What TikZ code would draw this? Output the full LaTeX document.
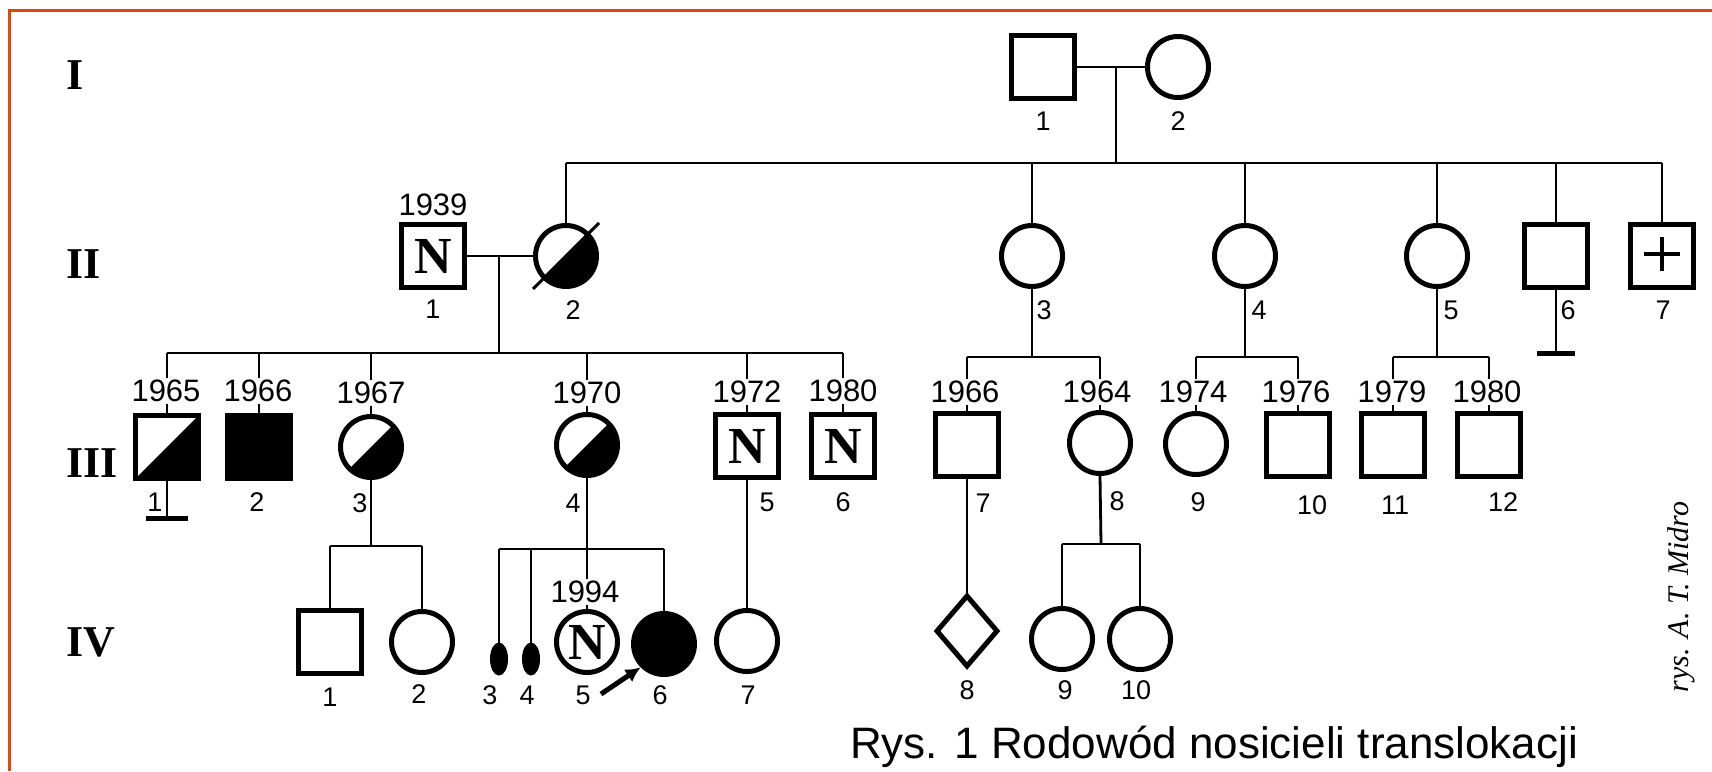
\documentclass[tikz,border=0pt]{standalone}
\usepackage{fontspec}
\setmainfont{Liberation Sans}
\newfontfamily\serifb{Liberation Serif}
\usetikzlibrary{arrows.meta,calc,shapes.geometric}
\definecolor{framecol}{RGB}{226,68,18}
\begin{document}
\begin{tikzpicture}[x=1pt,y=-1pt,
  sym/.style={draw,line width=5pt,inner sep=0pt},
  sq/.style={sym,rectangle,minimum size=63pt},
  ci/.style={sym,circle,minimum size=61pt},
  ell/.style={ellipse,draw,fill,line width=1pt,inner sep=0pt,minimum width=17pt,minimum height=32pt},
  dia/.style={diamond,draw,line width=5pt,inner sep=0pt,minimum width=62pt,minimum height=72pt},
  conn/.style={line width=2.8pt},
  barline/.style={line width=5pt},
  yr/.style={fill=white,inner sep=2pt,font=\fontsize{31}{31}\selectfont},
  lab/.style={inner sep=0pt,font=\fontsize{27}{27}\selectfont},
  gen/.style={anchor=west,inner sep=0pt,font=\serifb\bfseries\fontsize{44}{44}\selectfont},
  nn/.style={font=\serifb\bfseries\fontsize{52}{52}\selectfont},
  half/.style={path picture={\fill (path picture bounding box.south west) -- (path picture bounding box.south east) -- (path picture bounding box.north east) -- cycle;}},
]
\useasboundingbox (0,0) rectangle (1712,771);
\draw[framecol,line width=3pt] (9,771) -- (9,10) -- (1712,10);

% generation numerals
\node[gen] (gI) at (66,75) {I};
\node[gen] (gII) at (66,264) {II};
\node[gen] (gIII) at (66,463) {III};
\node[gen] (gIV) at (66,642) {IV};

% Generation I
\node[sq] (I1) at (1043,67) {};
\node[ci] (I2) at (1178,67) {};

% Generation II
\node[sq,nn] (II1) at (433,256) {N};
\node[ci,half] (II2) at (566,256) {};
\node[ci] (II3) at (1032,256) {};
\node[ci] (II4) at (1245,256) {};
\node[ci] (II5) at (1437,256) {};
\node[sq] (II6) at (1556,256) {};
\node[sq] (II7) at (1662,256) {};

% Generation III
\node[sq,half] (III1) at (167,447) {};
\node[sq,fill] (III2) at (259,447) {};
\node[ci,half] (III3) at (371,447) {};
\node[ci,half] (III4) at (587,445) {};
\node[sq,nn] (III5) at (747,446) {N};
\node[sq,nn] (III6) at (843,446) {N};
\node[sq] (III7) at (967,445) {};
\node[ci] (III8) at (1100,443) {};
\node[ci] (III9) at (1196,444) {};
\node[sq] (III10) at (1298,445) {};
\node[sq] (III11) at (1393,445) {};
\node[sq] (III12) at (1489,445) {};

% Generation IV
\node[sq] (IV1) at (330,642) {};
\node[ci] (IV2) at (422,642) {};
\node[ell] (IV3) at (499,659) {};
\node[ell] (IV4) at (531,659) {};
\node[ci,nn] (IV5) at (587,642) {N};
\node[ci,fill] (IV6) at (664,644) {};
\node[ci] (IV7) at (747,641) {};
\node[dia] (IV8) at (967,631) {};
\node[ci] (IV9) at (1062,639) {};
\node[ci] (IV10) at (1140,639) {};

% special marks
\draw[line width=3pt] ($(II2.center)+(-33,33)$) -- ($(II2.center)+(33,-33)$);
\draw[line width=4.5pt] ($(II7.center)+(-18,-2)$) -- ($(II7.center)+(18,-2)$);
\draw[line width=4.5pt] ($(II7.center)+(0,-19)$) -- ($(II7.center)+(0,15)$);

% connectors I
\coordinate (mI) at (1116,67);
\coordinate (sII) at (1116,163);
\draw[conn] (I1) -- (I2);
\draw[conn] (mI) -- (sII);
\draw[conn] (II2.north |- sII) -- (II7.north |- sII);
\foreach \n in {II2,II3,II4,II5,II6,II7} \draw[conn] (\n.north |- sII) -- (\n.north);

% connectors II1 x II2
\coordinate (mII) at (499,256);
\coordinate (sIII) at (499,353);
\draw[conn] (II1) -- (II2);
\draw[conn] (mII) -- (sIII);
\draw[conn] (III1.north |- sIII) -- (III6.north |- sIII);
\foreach \n in {III1,III2,III3,III4,III5,III6} \draw[conn] (\n.north |- sIII) -- (\n.north);

% II3, II4, II5 children
\coordinate (sIIIa) at (1032,357);
\draw[conn] (II3.south) -- (sIIIa);
\draw[conn] (III7.north |- sIIIa) -- (III8.north |- sIIIa);
\foreach \n in {III7,III8} \draw[conn] (\n.north |- sIIIa) -- (\n.north);
\coordinate (sIIIb) at (1245,357);
\draw[conn] (II4.south) -- (sIIIb);
\draw[conn] (III9.north |- sIIIb) -- (III10.north |- sIIIb);
\foreach \n in {III9,III10} \draw[conn] (\n.north |- sIIIb) -- (\n.north);
\coordinate (sIIIc) at (1437,357);
\draw[conn] (II5.south) -- (sIIIc);
\draw[conn] (III11.north |- sIIIc) -- (III12.north |- sIIIc);
\foreach \n in {III11,III12} \draw[conn] (\n.north |- sIIIc) -- (\n.north);

% no-offspring bars
\coordinate (b6) at (1556,353);
\draw[conn] (II6.south) -- (b6);
\draw[barline] ($(b6)+(-19,0)$) -- ($(b6)+(19,0)$);
\coordinate (b1) at (167,518);
\draw[conn] (III1.south) -- (b1);
\draw[barline] ($(b1)+(-21,0)$) -- ($(b1)+(21,0)$);

% generation IV connectors
\coordinate (sIVa) at (371,546);
\draw[conn] (III3.south) -- (sIVa);
\draw[conn] (IV1.north |- sIVa) -- (IV2.north |- sIVa);
\foreach \n in {IV1,IV2} \draw[conn] (\n.north |- sIVa) -- (\n.north);
\coordinate (sIVb) at (587,549);
\draw[conn] (III4.south) -- (sIVb);
\draw[conn] (IV3.north |- sIVb) -- (IV6.north |- sIVb);
\foreach \n in {IV3,IV4,IV5,IV6} \draw[conn] (\n.north |- sIVb) -- (\n.north);
\draw[conn] (III5.south) -- (IV7.north);
\draw[conn] (III7.south) -- (IV8.north);
\coordinate (sIVc) at (1101,544);
\draw[conn] (III8.south) -- (sIVc);
\draw[conn] (IV9.north |- sIVc) -- (IV10.north |- sIVc);
\foreach \n in {IV9,IV10} \draw[conn] (\n.north |- sIVc) -- (\n.north);

% proband arrow
\coordinate (arrS) at (601,694);
\draw[line width=5pt,-{Latex[length=15pt,width=15pt]}] (arrS) -- (IV6.south west);

% years
\node[yr] (II1y) at (433,205) {1939};
\node[yr] (III1y) at (166,391) {1965};
\node[yr] (III2y) at (258,391) {1966};
\node[yr] (III3y) at (371,393) {1967};
\node[yr] (III4y) at (587,393) {1970};
\node[yr] (III5y) at (747,392) {1972};
\node[yr] (III6y) at (843,391) {1980};
\node[yr] (III7y) at (965,392) {1966};
\node[yr] (III8y) at (1097,392) {1964};
\node[yr] (III9y) at (1193,392) {1974};
\node[yr] (III10y) at (1296,392) {1976};
\node[yr] (III11y) at (1392,392) {1979};
\node[yr] (III12y) at (1487,392) {1980};
\node[yr] (IV5y) at (585,592) {1994};

% labels
\node[lab] (I1l) at (1043,121) {1};
\node[lab] (I2l) at (1178,121) {2};
\node[lab] (II1l) at (433,309) {1};
\node[lab] (II2l) at (573,310) {2};
\node[lab] (II3l) at (1044,310) {3};
\node[lab] (II4l) at (1259,310) {4};
\node[lab] (II5l) at (1451,310) {5};
\node[lab] (II6l) at (1568,310) {6};
\node[lab] (II7l) at (1663,310) {7};
\node[lab] (III1l) at (155,502) {1};
\node[lab] (III2l) at (257,502) {2};
\node[lab] (III3l) at (360,503) {3};
\node[lab] (III4l) at (573,503) {4};
\node[lab] (III5l) at (767,502) {5};
\node[lab] (III6l) at (843,502) {6};
\node[lab] (III7l) at (983,503) {7};
\node[lab] (III8l) at (1117,501) {8};
\node[lab] (III9l) at (1198,502) {9};
\node[lab] (III10l) at (1312,505) {10};
\node[lab] (III11l) at (1395,505) {11};
\node[lab] (III12l) at (1503,502) {12};
\node[lab] (IV1l) at (330,697) {1};
\node[lab] (IV2l) at (419,694) {2};
\node[lab] (IV3l) at (490,695) {3};
\node[lab] (IV4l) at (527,695) {4};
\node[lab] (IV5l) at (583,695) {5};
\node[lab] (IV6l) at (660,695) {6};
\node[lab] (IV7l) at (748,695) {7};
\node[lab] (IV8l) at (967,690) {8};
\node[lab] (IV9l) at (1065,690) {9};
\node[lab] (IV10l) at (1136,690) {10};

% captions
\node[anchor=base west,inner sep=0pt,font=\fontsize{44}{44}\selectfont] (cap) at (850,758) {Rys. 1 Rodowód nosicieli translokacji};
\node[rotate=90,inner sep=0pt,font=\serifb\itshape\fontsize{30}{30}\selectfont] (sig) at (1681,597) {rys. A. T. Midro};
\end{tikzpicture}
\end{document}
